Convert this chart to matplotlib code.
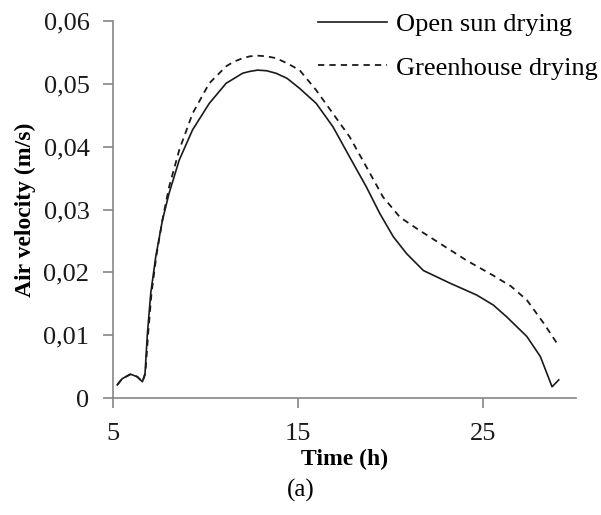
import numpy as np
from matplotlib import pyplot as plt
from matplotlib.ticker import FuncFormatter

plt.rcParams['font.family'] = ['Liberation Serif', 'DejaVu Serif']

# air velocity (m/s) against time of day (h)
t_open = [5.23, 5.5, 5.95, 6.31, 6.59, 6.73, 6.86, 7.04, 7.31, 7.67, 8.03, 8.58,
          9.3, 10.2, 11.11, 11.5, 12.0, 12.4, 12.82, 13.3, 13.81, 14.4, 15.08,
          15.98, 16.88, 17.78, 18.69, 19.41, 20.14, 20.86, 21.77, 23.2, 24.65,
          25.55, 26.28, 27.36, 28.09, 28.72, 29.08]
v_open = [0.0021, 0.0031, 0.0038, 0.0034, 0.0026, 0.0039, 0.0103, 0.0167, 0.0225,
          0.0283, 0.0326, 0.0379, 0.0427, 0.0469, 0.0501, 0.0508, 0.0517, 0.0520,
          0.0522, 0.0521, 0.0517, 0.0509, 0.0493, 0.0469, 0.0432, 0.0384, 0.0336,
          0.0294, 0.0257, 0.0230, 0.0203, 0.0183, 0.0164, 0.0148, 0.0129, 0.0098,
          0.0066, 0.0018, 0.0029]

t_green = [5.23, 5.5, 5.95, 6.31, 6.59, 6.75, 6.9, 7.08, 7.35, 7.7, 8.03, 8.58,
           9.3, 10.2, 11.11, 11.5, 12.0, 12.4, 12.82, 13.3, 13.81, 14.4, 15.08,
           15.98, 16.88, 17.78, 18.69, 19.59, 20.5, 21.4, 22.67, 24.11, 25.55,
           26.5, 27.36, 28.27, 28.99]
v_green = [0.0021, 0.0031, 0.0038, 0.0034, 0.0026, 0.0039, 0.0103, 0.0167, 0.0228,
           0.0288, 0.0336, 0.0395, 0.0453, 0.0501, 0.0528, 0.0535, 0.0541, 0.0544,
           0.0545, 0.0544, 0.0541, 0.0533, 0.0522, 0.0490, 0.0453, 0.0416, 0.0368,
           0.0320, 0.0288, 0.0270, 0.0246, 0.0219, 0.0195, 0.0178, 0.0156, 0.0119,
           0.0087]

x_ticks = [5, 15, 25]
y_ticks = [0, 0.01, 0.02, 0.03, 0.04, 0.05, 0.06]

fig = plt.figure(figsize=(6.01, 5.15), dpi=100)
ax = fig.add_axes([0.188, 0.227, 0.77, 0.732])

ax.plot(t_open, v_open, color='#1a1a1a', lw=1.2, label='Open sun drying')
ax.plot(t_green, v_green, color='#1a1a1a', lw=1.3, dashes=(3.5, 2.8),
        label='Greenhouse drying')

ax.set_xlim(5, 30)
ax.set_ylim(0, 0.06)
ax.set_xticks(x_ticks)
ax.set_yticks(y_ticks)
ax.yaxis.set_major_formatter(FuncFormatter(
    lambda v, p: '0' if v == 0 else ('%.2f' % v).replace('.', ',')))

for s in ['top', 'right']:
    ax.spines[s].set_visible(False)
for s in ['left', 'bottom']:
    ax.spines[s].set_color('#868686')
    ax.spines[s].set_linewidth(1.2)
ax.tick_params(direction='out', length=7, width=1.2, color='#868686',
               labelsize=19, labelcolor='#1a1a1a')
ax.tick_params(axis='y', pad=10)
ax.tick_params(axis='x', pad=11)

ax.set_xlabel('Time (h)', fontsize=17, fontweight='bold', labelpad=3)
ax.set_ylabel('Air velocity (m/s)', fontsize=17, fontweight='bold', labelpad=5)

leg = ax.legend(loc='upper right', bbox_to_anchor=(1.099, 1.085), frameon=False,
                fontsize=19, handlelength=2.6, handletextpad=0.35,
                labelspacing=0.75)

fig.text(0.5, 0.048, '(a)', ha='center', va='center', fontsize=18)

plt.savefig('out.png', dpi=100)
